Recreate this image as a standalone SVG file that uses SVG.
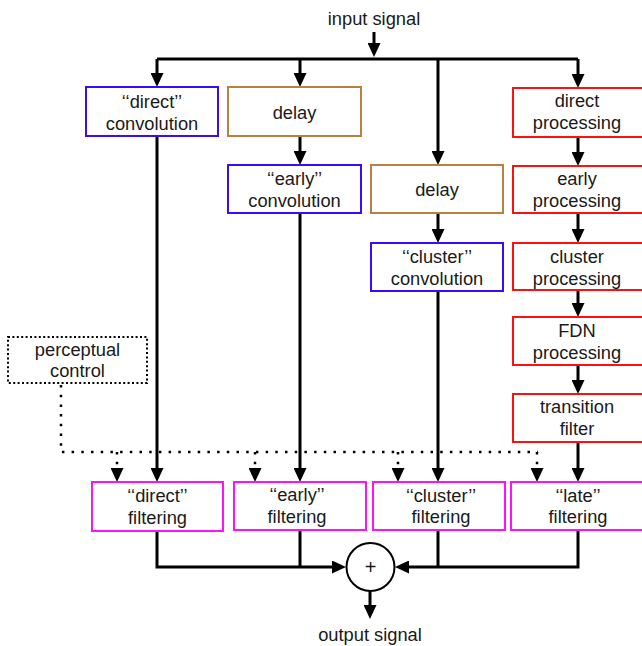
<svg xmlns="http://www.w3.org/2000/svg" width="642" height="646" viewBox="0 0 642 646">
<style>
text{font-family:"Liberation Sans",Arial,sans-serif;font-size:18.3px;fill:#1a1a1a;text-anchor:middle}
.box{fill:#fff;stroke-width:2}
.blue{stroke:#3a0aff}
.brown{stroke:#b9803f}
.red{stroke:#ff1010}
.mag{stroke:#ff10ff}
.ln{fill:none;stroke:#000;stroke-width:3}
.dot{fill:none;stroke:#000;stroke-width:2.5;stroke-dasharray:2.5 7.2}
</style>
<defs>
<marker id="ah" viewBox="0 0 14 13" refX="4" refY="6.5" markerWidth="14" markerHeight="13" markerUnits="userSpaceOnUse" orient="auto">
<path d="M0,0 L14,6.5 L0,13 z" fill="#000"/>
</marker>
</defs>
<rect width="642" height="646" fill="#fff"/>
<g id="connectors">
<path class="ln" d="M374,32 V47" marker-end="url(#ah)"/>
<path class="ln" d="M157,59 H578"/>
<path class="ln" d="M157,59 V77" marker-end="url(#ah)"/>
<path class="ln" d="M300,59 V77" marker-end="url(#ah)"/>
<path class="ln" d="M438,59 V155" marker-end="url(#ah)"/>
<path class="ln" d="M578,59 V78" marker-end="url(#ah)"/>
<path class="ln" d="M300,136 V155" marker-end="url(#ah)"/>
<path class="ln" d="M438,213 V233" marker-end="url(#ah)"/>
<path class="ln" d="M578,137 V156" marker-end="url(#ah)"/>
<path class="ln" d="M578,213 V233" marker-end="url(#ah)"/>
<path class="ln" d="M578,290 V307" marker-end="url(#ah)"/>
<path class="ln" d="M578,365 V384" marker-end="url(#ah)"/>
<path class="ln" d="M157,136 V472" marker-end="url(#ah)"/>
<path class="ln" d="M300,213 V472" marker-end="url(#ah)"/>
<path class="ln" d="M438,291 V472" marker-end="url(#ah)"/>
<path class="ln" d="M578,442 V472" marker-end="url(#ah)"/>
<path class="ln" d="M157,531 V567 H336" marker-end="url(#ah)"/>
<path class="ln" d="M300,530 V567"/>
<path class="ln" d="M578,530 V567 H405" marker-end="url(#ah)"/>
<path class="ln" d="M438,530 V567"/>
<path class="ln" d="M370,591 V609" marker-end="url(#ah)"/>
<path class="dot" d="M61,385 V452 H538"/>
<path class="dot" d="M117,452 V472" marker-end="url(#ah)"/>
<path class="dot" d="M255,452 V472" marker-end="url(#ah)"/>
<path class="dot" d="M398,452 V472" marker-end="url(#ah)"/>
<path class="dot" d="M537,452 V472" marker-end="url(#ah)"/>
</g>
<text x="374" y="25">input signal</text>
<text x="370" y="641">output signal</text>
<g id="direct-conv"><rect class="box blue" x="86" y="87" width="132" height="49"/><text x="152" y="107.5">‘‘direct’’</text><text x="152" y="129.5">convolution</text></g>
<g id="delay1"><rect class="box brown" x="228" y="87" width="133" height="49"/><text x="294.5" y="118.5">delay</text></g>
<g id="early-conv"><rect class="box blue" x="228" y="165" width="133" height="48"/><text x="294.5" y="185">‘‘early’’</text><text x="294.5" y="207">convolution</text></g>
<g id="delay2"><rect class="box brown" x="371" y="165" width="132" height="48"/><text x="437" y="196">delay</text></g>
<g id="cluster-conv"><rect class="box blue" x="371" y="243" width="132" height="48"/><text x="437" y="263">‘‘cluster’’</text><text x="437" y="285">convolution</text></g>
<g id="direct-proc"><rect class="box red" x="513" y="88" width="130" height="49"/><text x="577" y="107">direct</text><text x="577" y="129">processing</text></g>
<g id="early-proc"><rect class="box red" x="513" y="166" width="130" height="47"/><text x="577" y="185">early</text><text x="577" y="207">processing</text></g>
<g id="cluster-proc"><rect class="box red" x="513" y="243" width="130" height="47"/><text x="577" y="263">cluster</text><text x="577" y="285">processing</text></g>
<g id="fdn-proc"><rect class="box red" x="513" y="317" width="130" height="48"/><text x="577" y="337">FDN</text><text x="577" y="359">processing</text></g>
<g id="transition"><rect class="box red" x="513" y="394" width="130" height="48"/><text x="577" y="413">transition</text><text x="577" y="435">filter</text></g>
<g id="perceptual"><rect x="8" y="337" width="139" height="46" fill="#fff" stroke="#000" stroke-width="2" stroke-dasharray="2 2.4"/><text x="77.5" y="356">perceptual</text><text x="77.5" y="377">control</text></g>
<g id="direct-filt"><rect class="box mag" x="92" y="482" width="131" height="49"/><text x="157.5" y="502">‘‘direct’’</text><text x="157.5" y="524">filtering</text></g>
<g id="early-filt"><rect class="box mag" x="234" y="482" width="132" height="48"/><text x="297" y="501">‘‘early’’</text><text x="297" y="523">filtering</text></g>
<g id="cluster-filt"><rect class="box mag" x="373" y="482" width="132" height="48"/><text x="441" y="502">‘‘cluster’’</text><text x="441" y="523">filtering</text></g>
<g id="late-filt"><rect class="box mag" x="511" y="482" width="132" height="48"/><text x="578" y="502">‘‘late’’</text><text x="578" y="523">filtering</text></g>
<g id="sum"><circle cx="370.5" cy="567" r="24" fill="#fff" stroke="#000" stroke-width="2"/><text x="370.5" y="574" style="font-size:20px">+</text></g>
</svg>
